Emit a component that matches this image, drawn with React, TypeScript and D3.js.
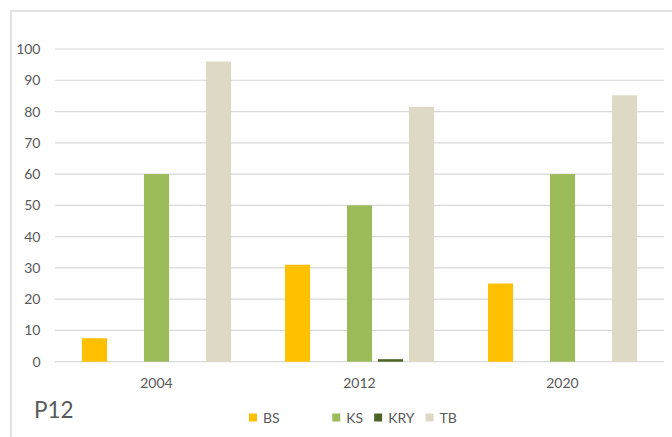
import React from "react";
import * as d3 from "d3";

// Survey years on the category axis
const years = ["2004", "2012", "2020"];

// Series names; the unnamed series has no data but keeps its slot in each group
const seriesNames = ["BS", "", "KS", "KRY", "TB"];
const seriesColors = ["#FFC000", "none", "#9BBB59", "#4F6228", "#DDD9C4"];

// Values per series, one per year
const bsValues = [7.5, 31, 25];
const blankValues: (number | null)[] = [null, null, null];
const ksValues = [60, 50, 60];
const kryValues = [0, 0.8, 0];
const tbValues = [96, 81.5, 85.2];

const yTicks = [0, 10, 20, 30, 40, 50, 60, 70, 80, 90, 100];
const panelLabel = "P12";

const W = 672;
const H = 437;
const FONT = "Lato, 'Open Sans', sans-serif";
const TEXT = "#595959";
const GRID = "#d9d9d9";

function measure(text: string, font: string): number {
  const c = document.createElement("canvas").getContext("2d");
  if (!c) return text.length * 7;
  c.font = font;
  return c.measureText(text).width;
}

export default function App() {
  const allValues = [bsValues, blankValues, ksValues, kryValues, tbValues];

  const x0 = d3.scaleBand<string>().domain(years).range([55, 664]).padding(0);
  const x1 = d3
    .scaleBand<string>()
    .domain(seriesNames.map((_, i) => String(i)))
    .range([0, x0.bandwidth()])
    .paddingInner(0.19)
    .paddingOuter(0.87);
  const y = d3.scaleLinear().domain([0, 100]).range([361.7, 49]);

  // Legend layout: swatch, gap, label, spacing
  const legendSize = 14;
  const legendFont = `${legendSize}px ${FONT}`;
  const sw = 8;
  const gap = 6;
  const spacing = 11;
  let cursor = 249;
  const legendItems = seriesNames.map((name, i) => {
    const tw = measure(name || "BS", legendFont);
    const item = { name, color: seriesColors[i], x: cursor };
    cursor += sw + gap + tw + spacing;
    return item;
  });

  return (
    <svg
      width={W}
      height={H}
      style={{ position: "absolute", left: 0, top: 0, background: "#fff" }}
      fontFamily={FONT}
    >
      <rect x={0} y={0} width={W} height={H} fill="#fff" />
      {/* chart area frame */}
      <rect x={11} y={11} width={W + 20} height={H + 20} fill="none" stroke={GRID} strokeWidth={1.5} />

      {/* gridlines and value axis */}
      {yTicks.map((t) => (
        <g key={t}>
          <line x1={55} x2={664} y1={y(t)} y2={y(t)} stroke={GRID} strokeWidth={1.2} />
          <text x={40.5} y={y(t)} dy="0.36em" textAnchor="end" fontSize={14} fill={TEXT}>
            {t}
          </text>
        </g>
      ))}

      {/* bars */}
      {years.map((yr, yi) => (
        <g key={yr} transform={`translate(${x0(yr)},0)`}>
          {allValues.map((vals, si) => {
            const v = vals[yi];
            if (v == null || seriesColors[si] === "none") return null;
            const top = y(v);
            return (
              <rect
                key={si}
                x={x1(String(si))}
                y={top}
                width={x1.bandwidth()}
                height={y(0) - top}
                fill={seriesColors[si]}
              />
            );
          })}
        </g>
      ))}

      {/* category labels */}
      {years.map((yr) => (
        <text
          key={yr}
          x={(x0(yr) as number) + x0.bandwidth() / 2}
          y={388}
          textAnchor="middle"
          fontSize={14}
          fill={TEXT}
        >
          {yr}
        </text>
      ))}

      <text x={34} y={418} fontSize={22.5} fill={TEXT}>
        {panelLabel}
      </text>

      {/* legend */}
      {legendItems.map((it, i) =>
        it.color === "none" ? null : (
          <g key={i} transform={`translate(${it.x},0)`}>
            <rect x={0} y={413.5} width={sw} height={sw} fill={it.color} />
            <text x={sw + gap} y={422.5} fontSize={legendSize} fill={TEXT}>
              {it.name}
            </text>
          </g>
        )
      )}
    </svg>
  );
}
